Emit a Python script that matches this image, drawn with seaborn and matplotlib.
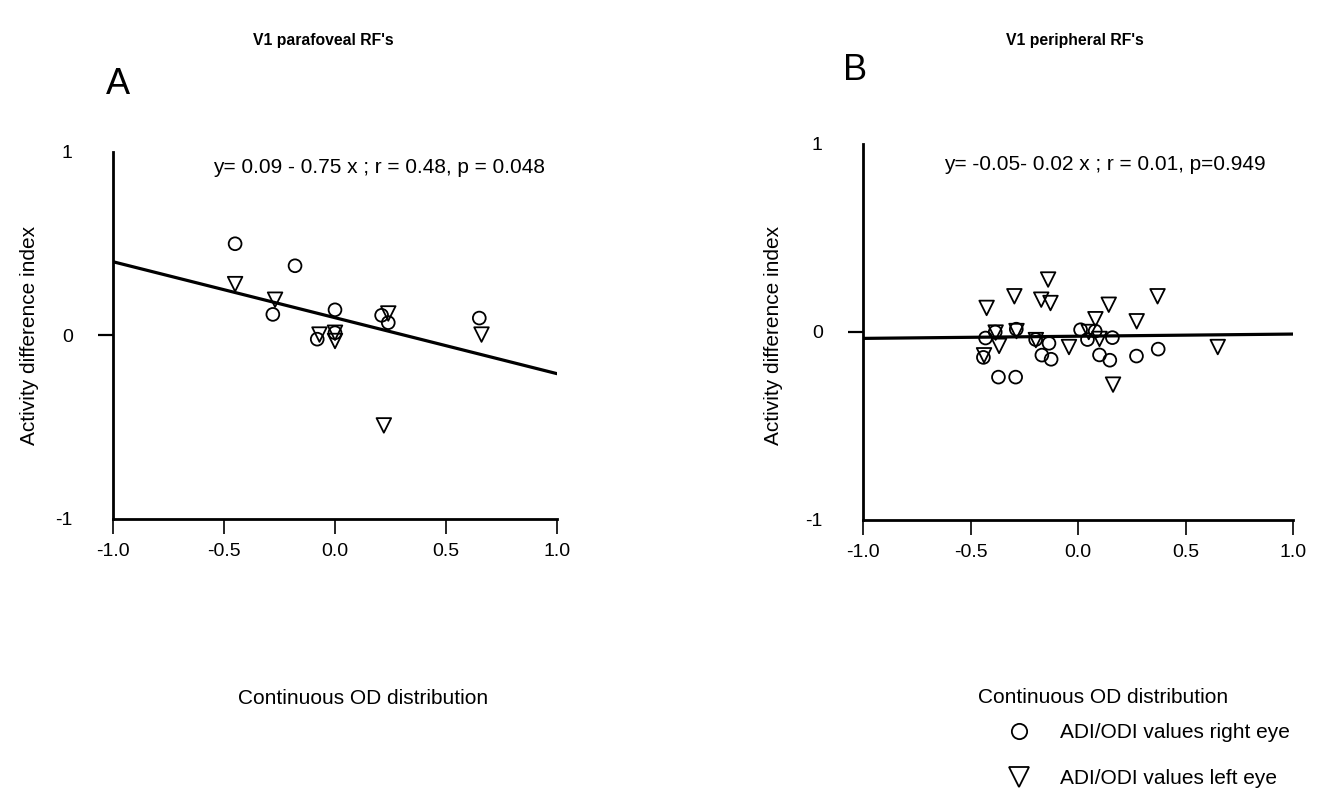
import numpy as np
import pandas as pd
import matplotlib
matplotlib.use("Agg")
import matplotlib.pyplot as plt
from matplotlib.lines import Line2D
import seaborn as sns

# ---------------- data ----------------
# Panel A: V1 parafoveal RF's
xA_right = [-0.45, -0.18, -0.28, 0.00, -0.08, 0.00, 0.21, 0.24, 0.65]
yA_right = [0.50, 0.38, 0.115, 0.14, -0.02, 0.015, 0.11, 0.07, 0.095]
xA_left = [-0.45, -0.27, -0.07, 0.00, 0.00, 0.24, 0.22, 0.66]
yA_left = [0.28, 0.195, 0.005, 0.015, -0.03, 0.12, -0.49, 0.005]
fitA = [0.097, -0.305]          # intercept, slope of drawn line
eqA = "y= 0.09 - 0.75 x ; r = 0.48, p = 0.048"

# Panel B: V1 peripheral RF's
xB_right = [-0.43, -0.385, -0.44, -0.37, -0.29, -0.287, -0.197, -0.135, -0.168,
            -0.125, 0.012, 0.044, 0.08, 0.16, 0.10, 0.148, 0.272, 0.373]
yB_right = [-0.032, 0.0, -0.135, -0.24, -0.24, 0.015, -0.04, -0.06, -0.123,
            -0.145, 0.012, -0.04, 0.005, -0.03, -0.122, -0.15, -0.128, -0.091]
xB_left = [-0.425, -0.296, -0.139, -0.171, -0.128, 0.143, 0.37, 0.081, 0.273,
           -0.383, -0.286, -0.367, -0.437, -0.196, -0.042, 0.05, 0.10, 0.163, 0.65]
yB_left = [0.128, 0.19, 0.279, 0.172, 0.154, 0.145, 0.19, 0.068, 0.057,
           -0.003, 0.005, -0.074, -0.124, -0.043, -0.08, 0.0, -0.037, -0.28, -0.08]
fitB = [-0.0225, 0.0115]
eqB = "y= -0.05- 0.02 x ; r = 0.01, p=0.949"

xticks = [-1.0, -0.5, 0.0, 0.5, 1.0]
xticklabels = ["-1.0", "-0.5", "0.0", "0.5", "1.0"]
yticks = [-1, 0, 1]
yticklabels = ["-1", "0", "1"]
titles = ["V1 parafoveal RF's", "V1 peripheral RF's"]
letters = ["A", "B"]
xlabel = "Continuous OD distribution"
ylabel = "Activity difference index"
legend_labels = ["ADI/ODI values right eye", "ADI/ODI values left eye"]

# ---------------- style ----------------
sns.set_style("ticks")
plt.rcParams["font.family"] = ["Liberation Sans", "DejaVu Sans"]
plt.rcParams.update({
    "text.color": "black", "axes.labelcolor": "black", "axes.edgecolor": "black",
    "xtick.color": "black", "ytick.color": "black",
})
FS = 15

fig = plt.figure(figsize=(13.21, 7.90), dpi=100)
W, H = 1321, 790


def add_ax(left, top, right, bottom):
    return fig.add_axes([left / W, 1 - bottom / H, (right - left) / W, (bottom - top) / H])


axA = add_ax(113, 152, 557, 519)
axB = add_ax(863, 144, 1293, 520)


def draw(ax, xr, yr, xl, yl, fit, eq, eqpos, xlabpos, ylabpos):
    dr = pd.DataFrame({"x": xr, "y": yr})
    dl = pd.DataFrame({"x": xl, "y": yl})
    xs = np.array([-1.0, 1.0])
    dfit = pd.DataFrame({"x": xs, "y": fit[0] + fit[1] * xs})
    sns.lineplot(data=dfit, x="x", y="y", ax=ax, color="black", lw=2.3, zorder=2)
    sns.scatterplot(data=dr, x="x", y="y", ax=ax, marker="o", s=85,
                    facecolor="none", edgecolor="black", linewidth=1.3, zorder=3,
                    clip_on=False)
    sns.scatterplot(data=dl, x="x", y="y", ax=ax, marker="v", s=110,
                    facecolor="none", edgecolor="black", linewidth=1.3, zorder=3,
                    clip_on=False)
    ax.set_xlim(-1, 1)
    ax.set_ylim(-1, 1)
    ax.set_xticks(xticks)
    ax.set_xticklabels(xticklabels, fontsize=FS - 1)
    ax.set_yticks(yticks)
    ax.set_yticklabels(yticklabels, fontsize=FS - 1)
    ax.tick_params(axis="x", length=11, width=1.2, pad=6, direction="out")
    ax.tick_params(axis="y", length=11, width=1.6, pad=18, direction="out")
    yt = ax.yaxis.get_major_ticks()
    yt[0].tick1line.set_visible(False)
    yt[2].tick1line.set_visible(False)
    for s in ["top", "right"]:
        ax.spines[s].set_visible(False)
    for s in ["left", "bottom"]:
        ax.spines[s].set_linewidth(2.0)
    ax.set_xlabel(xlabel, fontsize=FS)
    ax.xaxis.set_label_coords(*xlabpos)
    ax.xaxis.label.set_va("center")
    ax.set_ylabel(ylabel, fontsize=FS)
    ax.yaxis.set_label_coords(*ylabpos)
    ax.yaxis.label.set_va("center")
    ax.text(eqpos[0], eqpos[1], eq, fontsize=FS, ha="left", va="center")


draw(axA, xA_right, yA_right, xA_left, yA_left, fitA, eqA, (-0.55, 0.913),
     (0.563, -0.488), (-0.187, 0.50))
draw(axB, xB_right, yB_right, xB_left, yB_left, fitB, eqB, (-0.625, 0.89),
     (0.558, -0.473), (-0.209, 0.49))

# titles and panel letters
fig.text(323 / W, 1 - 40 / H, titles[0], fontsize=11.3, fontweight="bold",
         ha="center", va="center")
fig.text(1075 / W, 1 - 40 / H, titles[1], fontsize=11.3, fontweight="bold",
         ha="center", va="center")
fig.text(106 / W, 1 - 85 / H, letters[0], fontsize=26, ha="left", va="center")
fig.text(843 / W, 1 - 70 / H, letters[1], fontsize=26, ha="left", va="center")

# legend
handles = [
    Line2D([], [], marker="o", ls="", mfc="none", mec="black", ms=11, mew=1.3),
    Line2D([], [], marker="v", ls="", mfc="none", mec="black", ms=14, mew=1.3),
]
fig.legend(handles, legend_labels, loc="upper left",
           bbox_to_anchor=(995 / W, 1 - 715 / H), frameon=False,
           fontsize=FS, handletextpad=1.2, labelspacing=1.3, handlelength=1.5,
           borderaxespad=0)

fig.savefig("out.png", dpi=100)
